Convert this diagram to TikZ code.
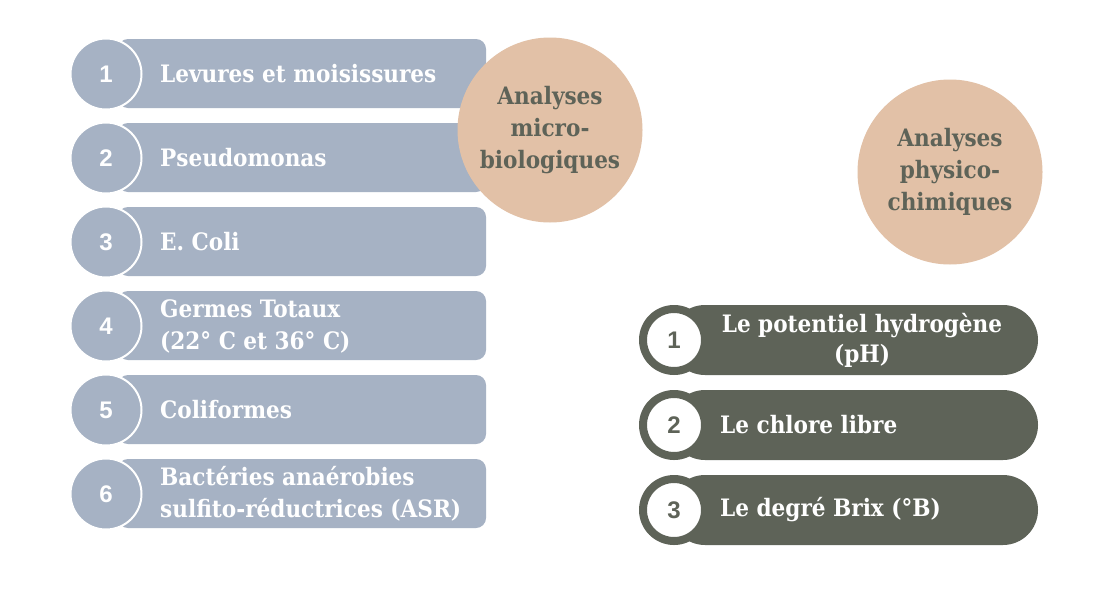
\documentclass[tikz,border=0pt]{standalone}
\usepackage{fontspec}
\setmainfont{DejaVu Serif Condensed}
\newfontfamily\numfont{Liberation Sans}
\definecolor{barblue}{HTML}{A6B2C4}
\definecolor{peach}{HTML}{E2C1A7}
\definecolor{olive}{HTML}{5E6358}
\tikzset{
  leftbar/.style={fill=barblue, rounded corners=10pt},
  leftnum/.style={circle, fill=barblue, draw=white, line width=2pt, minimum size=71pt, inner sep=0pt, text=white, font=\numfont\bfseries\fontsize{24}{24}\selectfont},
  lefttext/.style={anchor=west, align=left, text=white, inner sep=0pt, font=\bfseries\fontsize{24}{32}\selectfont},
  bigcirc/.style={circle, fill=peach, minimum size=185pt, inner sep=0pt, align=center, text=olive, font=\bfseries\fontsize{24}{32}\selectfont},
  rightbar/.style={fill=olive, rounded corners=35pt},
  rightnum/.style={circle, fill=white, draw=olive, line width=8pt, minimum size=62pt, inner sep=0pt, text=olive, font=\numfont\bfseries\fontsize{24}{24}\selectfont},
  righttext/.style={text=white, inner sep=0pt, font=\bfseries\fontsize{24}{30}\selectfont}
}
\begin{document}
\begin{tikzpicture}[x=1pt,y=-1pt]
\useasboundingbox[fill=white] (0,0) rectangle (1100,600);
% left bars
\foreach \i/\y in {1/74,2/158,3/242,4/326,5/410,6/494}{
  \fill[leftbar] (118,\y-35) rectangle (486,\y+34);
}
\foreach \i/\y in {1/74,2/158,3/242,4/326,5/410,6/494}{
  \node[leftnum] (n\i) at (106,\y) {\i};
}
\node[lefttext] (t1) at (160,74) {Levures et moisissures};
\node[lefttext] (t2) at (160,158) {Pseudomonas};
\node[lefttext] (t3) at (160,242) {E. Coli};
\node[lefttext] (t4) at (160,326) {Germes Totaux\\(22° C et 36° C)};
\node[lefttext] (t5) at (160,410) {Coliformes};
\node[lefttext] (t6) at (160,494) {Bactéries anaérobies\\sulfito-réductrices (ASR)};
\node[bigcirc] (micro) at (550,130) {Analyses\\micro-\\biologiques};
\node[bigcirc] (phys) at (950,172) {Analyses\\physico-\\chimiques};
% right bars
\foreach \i/\y in {1/340,2/425,3/510}{
  \fill[rightbar] (670,\y-35) rectangle (1038,\y+35);
  \node[rightnum] (r\i) at (674,\y) {\i};
}
\node[righttext, align=center] (s1) at (862,340) {Le potentiel hydrogène\\(pH)};
\node[righttext, anchor=west] (s2) at (720,425) {Le chlore libre};
\node[righttext, anchor=west] (s3) at (720,510) {Le degré Brix (°B)};
\end{tikzpicture}
\end{document}
